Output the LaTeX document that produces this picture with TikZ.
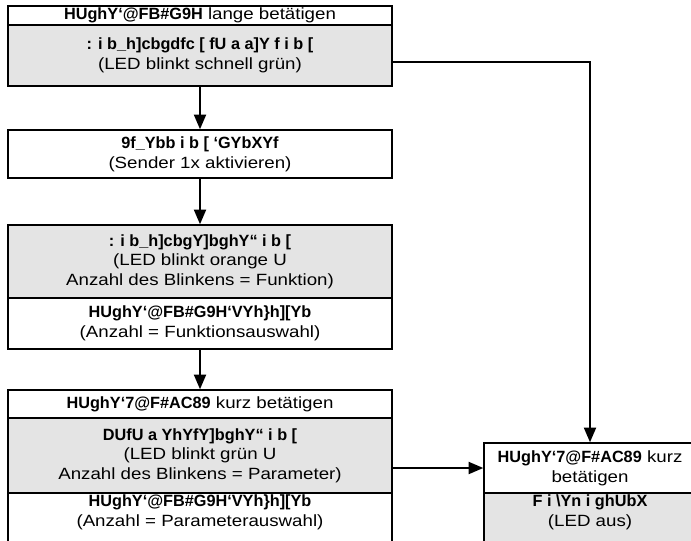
\documentclass[tikz,border=0pt]{standalone}
\usepackage{fontspec}
\setmainfont{Liberation Sans}[UprightFeatures={FakeStretch=1.15}]
\usetikzlibrary{arrows.meta}
\definecolor{boxgray}{HTML}{E4E4E4}
\begin{document}
\begin{tikzpicture}[x=0.75pt,y=-0.75pt,
  txt/.style={align=center,inner sep=0pt,font=\fontsize{12.2}{14.7}\selectfont},
  box/.style={txt,draw=black,line width=1.1pt,minimum width=288pt},
  wbox/.style={box,fill=white},
  gbox/.style={box,fill=boxgray},
  frame/.style={draw=black,line width=1.1pt},
  arr/.style={line width=1.5pt,-{Triangle[length=11pt,width=9pt]}}]
\useasboundingbox (0,0) rectangle (691,541);
\clip (0,0) rectangle (691,541);
\fill[white] (0,0) rectangle (691,541);

% box 1
\node[wbox,minimum height=14.25pt] (w1) at (200,15.5) {\textbf{HUghY`@FB\#G9H} lange betätigen};
\node[gbox,minimum height=45.75pt] (g1) at (200,55.5) {\textbf{: i b\_h]cbgdfc [ fU a a]Y f i b [}\\(LED blinkt schnell grün)};

% box 2
\node[wbox,minimum height=36pt] (w2) at (200,154) {\textbf{9f\_Ybb i b [ `GYbXYf}\\(Sender 1x aktivieren)};

% box 3
\node[gbox,minimum height=54.75pt] (g3) at (200,261.5) {\textbf{: i b\_h]cbgY]bghY`` i b [}\\(LED blinkt orange U\\Anzahl des Blinkens = Funktion)};
\node[wbox,minimum height=38.25pt] (w3) at (200,323.5) {\textbf{HUghY`@FB\#G9H`VYh\}h][Yb}\\(Anzahl = Funktionsauswahl)};

% box 4
\node[wbox,minimum height=21pt] (w4) at (200,404) {\textbf{HUghY`7@F\#AC89} kurz betätigen};
\node[gbox,minimum height=56.25pt] (g4) at (200,455.5) {\textbf{DUfU a YhYfY]bghY`` i b [}\\(LED blinkt grün U\\Anzahl des Blinkens = Parameter)};
\draw[frame,fill=white] (8,493) rectangle (392,570);
\node[txt] (w5) at (200,512) {\textbf{HUghY`@FB\#G9H`VYh\}h][Yb}\\(Anzahl = Parameterauswahl)};

% right box
\node[wbox,minimum width=159pt,minimum height=37.5pt] (r1) at (590,468) {\textbf{HUghY`7@F\#AC89} kurz\\betätigen};
\draw[frame,fill=boxgray] (484,493) rectangle (700,570);
\node[txt] (r2) at (590,512) {\textbf{F i \textbackslash Yn i ghUbX}\\(LED aus)};

% connectors
\draw[arr] (g1.south) -- (w2.north);
\draw[arr] (w2.south) -- (g3.north);
\draw[arr] (w3.south) -- (w4.north);
\coordinate (k) at (590,62);
\draw[arr] (g1.east |- k) -- (k) -- (r1.north);
\draw[arr] (g4.east |- r1.west) -- (r1.west);
\end{tikzpicture}
\end{document}
